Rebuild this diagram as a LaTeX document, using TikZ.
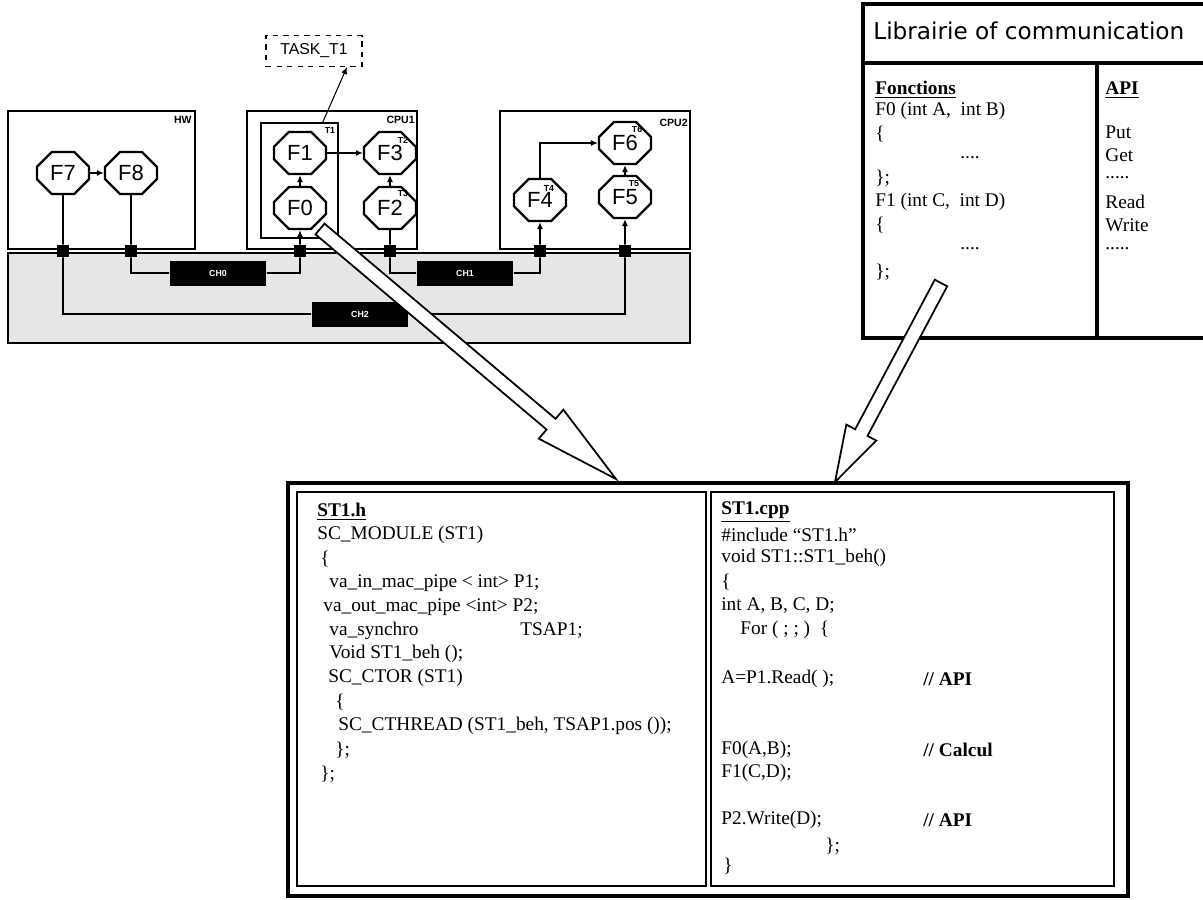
\documentclass[tikz,border=0pt]{standalone}
\usepackage{fontspec}
\setmainfont{Liberation Serif}
\setsansfont{Liberation Sans}
\newfontfamily\headfont{DejaVu Sans}
\usetikzlibrary{positioning,arrows.meta,calc,shapes.misc}
\definecolor{BusGrey}{HTML}{E6E6E6}

% hollow block arrow: start, tip, head length, half head width
\newcommand{\hollowarrow}[4]{%
  \coordinate (hb) at ($(#2)!#3!(#1)$);
  \draw[hollow] ($(#1)!0.14cm!90:(#2)$) -- ($(hb)!0.14cm!90:(#2)$) -- ($(hb)!#4!90:(#2)$) -- (#2)
    -- ($(hb)!#4!-90:(#2)$) -- ($(hb)!0.14cm!-90:(#2)$) -- ($(#1)!0.14cm!-90:(#2)$) -- cycle;}
\newcommand{\etc}{.{}.{}.{}.}

\begin{document}
\begin{tikzpicture}[x=0.02cm, y=-0.02cm, >={Latex[length=4pt,width=3.5pt]},
  unit/.style={draw, line width=1pt},
  func/.style={chamfered rectangle, chamfered rectangle xsep=0.2cm, draw, line width=1.3pt, fill=white,
    minimum width=1.04cm, minimum height=0.84cm, inner sep=1pt, font=\sffamily\fontsize{12.5}{12.5}\selectfont},
  port/.style={fill=black, minimum size=0.24cm, inner sep=0pt},
  chan/.style={fill=black, text=white, minimum width=1.94cm, minimum height=0.5cm, inner sep=0pt,
    font=\sffamily\bfseries\fontsize{5}{5}\selectfont},
  wire/.style={line width=1pt},
  tag/.style={font=\sffamily\bfseries\fontsize{6}{6}\selectfont, inner sep=0pt},
  code/.style={anchor=west, inner sep=0pt, font=\fontsize{11}{13}\selectfont},
  hollow/.style={draw, line width=1pt, fill=white, line join=miter},
  frame/.style={draw, line width=2.2pt}]
  \useasboundingbox (0,0) rectangle (1203,899);

  % platform
  \draw[unit] (8,111) rectangle (195,249);
  \draw[unit] (247,111) rectangle (417,249);
  \draw[unit] (500,111) rectangle (690,249);
  \draw[unit, fill=BusGrey] (8,253) rectangle (690,343);
  \node[tag, anchor=north east] (hw) at (192,116) {HW};
  \node[tag, anchor=north east] (cpu1) at (415,116) {CPU1};
  \node[tag, anchor=north east] (cpu2) at (688,119) {CPU2};

  % task T1
  \node[draw, line width=0.8pt, minimum width=1.54cm, minimum height=2.3cm] (t1) at (299.5,180.5) {};
  \node[draw, dashed, line width=0.6pt, minimum width=1.92cm, minimum height=0.62cm,
    font=\sffamily\fontsize{9}{9}\selectfont] (task) at (314,51) {TASK\_T1};

  % functions
  \node[func] (f7) at (63,173) {F7};
  \node[func] (f8) at (131,173) {F8};
  \node[func] (f1) at (300,153) {F1};
  \node[func] (f0) at (300,208) {F0};
  \node[func] (f3) at (390,153) {F3};
  \node[func] (f2) at (390,208) {F2};
  \node[func] (f4) at (540,200) {F4};
  \node[func] (f5) at (625,197) {F5};
  \node[func] (f6) at (625,143) {F6};
  \foreach \n/\x/\y in {1/330/130, 2/403/140, 3/403/193, 4/549/188, 5/634/184, 6/637/129}
    \node[tag, font=\sffamily\bfseries\fontsize{5}{5}\selectfont] (lt\n) at (\x,\y) {T\n};

  % ports and channels
  \foreach \n/\x in {7/63, 8/131, 0/300, 2/390, 4/540, 5/625}
    \node[port] (p\n) at (\x,251) {};
  \node[chan] (ch0) at (218,273) {CH0};
  \node[chan] (ch1) at (465,273) {CH1};
  \node[chan] (ch2) at (360,314) {CH2};

  % connectors
  \draw[wire] (f7) -- (p7) |- (ch2);
  \draw[wire,->] (ch2) -| (p5) -- (f5);
  \draw[wire] (f8) -- (p8) |- (ch0);
  \draw[wire,->] (ch0) -| (p0) -- (f0);
  \draw[wire] (f2) -- (p2) |- (ch1);
  \draw[wire,->] (ch1) -| (p4) -- (f4);
  \draw[wire,->] (f7) -- (f8);
  \draw[wire,->] (f1) -- (f3);
  \draw[wire,->] (f0) -- (f1);
  \draw[wire,->] (f2) -- (f3);
  \draw[wire,->] (f5) -- (f6);
  \draw[wire,->] (f4) |- (f6);
  \draw[line width=0.6pt,->] ([xshift=-0.32cm]t1.north east) -- ([xshift=0.66cm]task.south);

  % library
  \draw[frame] (863,4) rectangle (1215,338);
  \draw[frame] (863,63) -- (1215,63);
  \draw[frame] (1097,63) -- (1097,338);
  \node[anchor=west, inner sep=0pt, font=\headfont\fontsize{13.2}{13.2}\selectfont] (libtitle) at (873,31) {Librairie of communication};
  \node[code] (fhead) at (875,90) {\underline{\textbf{Fonctions}}};
  \foreach \y/\x/\txt [count=\i] in {111/875/{F0 (int A,~ int B)}, 134/875/\{, 158/960/\etc, 178/875/\};,
      202/875/{F1 (int C,~ int D)}, 225/875/\{, 249/960/\etc, 272/875/\};}
    \node[code] (fn\i) at (\x,\y) {\txt};
  \node[code] (ahead) at (1105,90) {\underline{\textbf{API}}};
  \foreach \y/\txt [count=\i] in {132/Put, 155/Get, 178/\etc., 202/Read, 225/Write, 249/\etc.}
    \node[code] (api\i) at (1105,\y) {\txt};

  % SystemC code
  \draw[frame] (288,483) rectangle (1128,896);
  \draw[line width=1.3pt] (297,492) rectangle (706,886);
  \draw[line width=1.3pt] (711,492) rectangle (1114,886);
  \foreach \y/\x/\txt [count=\i] in {512/317/{\underline{\textbf{ST1.h}}}, 535/317/{SC\_MODULE (ST1)}, 559/320/\{,
      583/329/{va\_in\_mac\_pipe < int> P1;}, 607/323/{va\_out\_mac\_pipe <int> P2;}, 631/329/va\_synchro,
      654/329/{Void ST1\_beh ();}, 678/328/{SC\_CTOR (ST1)}, 702/335/\{,
      726/338/{SC\_CTHREAD (ST1\_beh, TSAP1.pos ());}, 750/335/\};, 774/320/\};}
    \node[code] (h\i) at (\x,\y) {\txt};
  \node[code] (tsap) at (520,631) {TSAP1;};
  \foreach \y/\x/\txt [count=\i] in {512/721/{\underline{\textbf{ST1.cpp}}}, 535/721/{\#include ``ST1.h''},
      558/721/{void ST1::ST1\_beh()}, 582/721/\{, 606/721/{int A, B, C, D;}, 630/740/{For ( ; ; )~ \{},
      679/721/{A=P1.Read( );}, 750/721/{F0(A,B);}, 773/721/{F1(C,D);}, 820/721/{P2.Write(D);},
      846/825/\};, 866/723/\}}
    \node[code] (c\i) at (\x,\y) {\txt};
  \node[code] (cm1) at (923,679) {\textbf{// API}};
  \node[code] (cm2) at (923,750) {\textbf{// Calcul}};
  \node[code] (cm3) at (923,820) {\textbf{// API}};

  % hollow arrows
  \coordinate (a1s) at (320,229);
  \coordinate (a1e) at (616,479);
  \hollowarrow{a1s}{a1e}{1.7cm}{0.38cm}
  \coordinate (a2s) at (941,283);
  \coordinate (a2e) at (835,482);
  \hollowarrow{a2s}{a2e}{1.12cm}{0.34cm}
\end{tikzpicture}
\end{document}
